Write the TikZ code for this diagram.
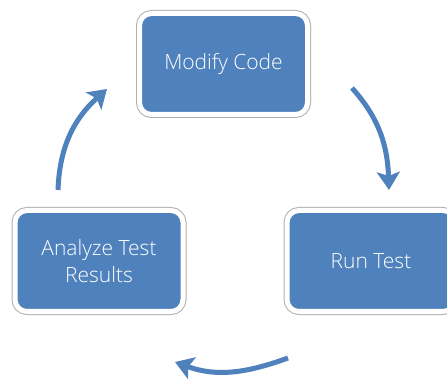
\documentclass[tikz,border=0pt]{standalone}
\usepackage{fontspec}
\setmainfont{Open Sans Light}
\usetikzlibrary{arrows.meta}
\definecolor{boxblue}{RGB}{79,129,189}
\definecolor{rimgrey}{RGB}{175,175,175}
\tikzset{
  stepbox/.style={rounded corners=12pt, fill=boxblue, draw=white, line width=5pt,
    preaction={draw=rimgrey, line width=7pt},
    minimum width=168pt, minimum height=101pt, inner sep=0pt,
    text=white, align=center, font=\fontsize{21}{26.5}\selectfont},
  cyclearrow/.style={draw=boxblue, line width=5pt,
    -{Stealth[length=18pt, width=23pt, inset=4pt]}}
}
\begin{document}
\begin{tikzpicture}[x=1pt,y=-1pt]
\useasboundingbox (0,0) rectangle (447,379);
\node[stepbox] (modify) at (223.5,64) {Modify Code};
\node[stepbox] (run) at (371,261) {Run Test};
\node[stepbox] (analyze) at (99,261) {Analyze Test\\Results};
\coordinate (a1s) at (352,88);
\coordinate (a1e) at (389,190);
\coordinate (a2s) at (288,358);
\coordinate (a2e) at (175,362);
\coordinate (a3s) at (58,190);
\coordinate (a3e) at (107,89);
\draw[cyclearrow] (a1s) to[out=-48, in=92] (a1e);
\draw[cyclearrow] (a2s) to[out=-160, in=-20] (a2e);
\draw[cyclearrow] (a3s) to[out=88, in=-138] (a3e);
\end{tikzpicture}
\end{document}
